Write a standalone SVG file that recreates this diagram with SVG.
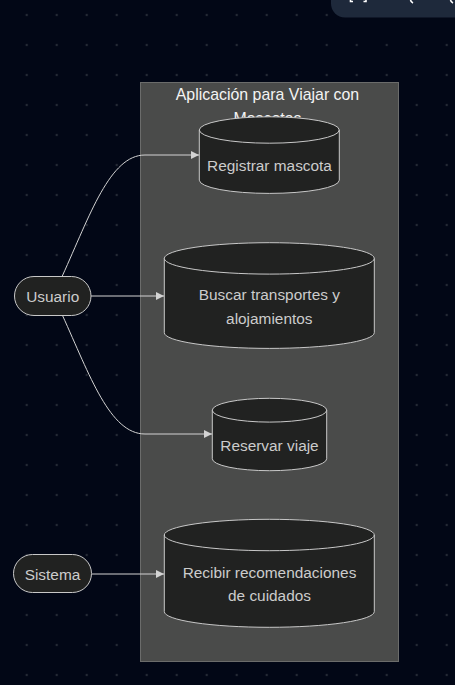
<svg xmlns="http://www.w3.org/2000/svg" width="455" height="685" viewBox="0 0 455 685">
  <defs>
    <pattern id="dots" x="11.7" y="0" width="30" height="30" patternUnits="userSpaceOnUse">
      <circle cx="15" cy="15" r="1.2" fill="#252a35"/>
    </pattern>
    <marker id="arrow" viewBox="0 0 10 10" refX="10" refY="5" markerUnits="userSpaceOnUse" markerWidth="8" markerHeight="8" orient="auto">
      <path d="M0,0 L10,5 L0,10 z" fill="#d3d3d3"/>
    </marker>
    <style>
      .lbl { font-family: "Liberation Sans", Arial, sans-serif; font-size: 15.4px; fill: #cccccc; text-anchor: middle; }
      .title { font-family: "Liberation Sans", Arial, sans-serif; font-size: 15.9px; fill: #f4f4f4; text-anchor: middle; }
      .cyl { fill: #212221; stroke: #c8c8c8; stroke-width: 1; }
      .actor { fill: #212221; stroke: #c8c8c8; stroke-width: 1; }
      .edge { fill: none; stroke: #d3d3d3; stroke-width: 1; marker-end: url(#arrow); }
    </style>
  </defs>

  <rect width="455" height="685" fill="#020716"/>
  <rect width="455" height="685" fill="url(#dots)"/>

  <!-- toolbar corner -->
  <g id="toolbar">
    <rect x="331" y="-20" width="150" height="37.5" rx="14" fill="#1e293b"/>
    <path d="M350.5,0 V1.5 H353 M366,0 V1.5 H363.5 M410.5,0 Q411,2 413,3 M450.5,0 Q451,2 453,3" fill="none" stroke="#ffffff" stroke-width="1.6"/>
  </g>

  <!-- subgraph -->
  <g id="subgraph-app">
    <rect x="140.5" y="82.5" width="258" height="579" fill="#4a4b4a" stroke="#6b6c6b" stroke-width="1"/>
    <text class="title" x="267.5" y="100">Aplicación para Viajar con</text>
    <text class="title" x="267.5" y="123.5">Mascotas</text>
  </g>

  <!-- connectors -->
  <g id="connectors">
    <path class="edge" d="M62.3,276 C90,215 110,155 145,155 L199,155"/>
    <path class="edge" d="M91,296 L164,296"/>
    <path class="edge" d="M62.3,315 C90,376 110,434 145,434 L212,434"/>
    <path class="edge" d="M92,574 L164,574"/>
  </g>

  <!-- use case nodes -->
  <g id="node-registrar">
    <path class="cyl" d="M199.3,130 a70,13.2 0 0 0 140,0 a70,13.2 0 0 0 -140,0 l0,50.2 a70,13.2 0 0 0 140,0 l0,-50.2"/>
    <text class="lbl" x="269.5" y="171">Registrar mascota</text>
  </g>

  <g id="node-buscar">
    <path class="cyl" d="M164.3,258.4 a105,15.7 0 0 0 210,0 a105,15.7 0 0 0 -210,0 l0,74.3 a105,15.7 0 0 0 210,0 l0,-74.3"/>
    <text class="lbl" x="269.3" y="300">Buscar transportes y</text>
    <text class="lbl" x="269.3" y="323.5">alojamientos</text>
  </g>

  <g id="node-reservar">
    <path class="cyl" d="M212.3,410.2 a57.2,11.9 0 0 0 114.4,0 a57.2,11.9 0 0 0 -114.4,0 l0,48.6 a57.2,11.9 0 0 0 114.4,0 l0,-48.6"/>
    <text class="lbl" x="269.5" y="451">Reservar viaje</text>
  </g>

  <g id="node-recibir">
    <path class="cyl" d="M164.3,535 a105,15.7 0 0 0 210,0 a105,15.7 0 0 0 -210,0 l0,76.6 a105,15.7 0 0 0 210,0 l0,-76.6"/>
    <text class="lbl" x="269.5" y="578.3">Recibir recomendaciones</text>
    <text class="lbl" x="269.5" y="601.1">de cuidados</text>
  </g>

  <!-- actors -->
  <g id="node-usuario">
    <rect class="actor" x="14.5" y="276.5" width="76.5" height="39" rx="19.5"/>
    <text class="lbl" x="52.7" y="301.5">Usuario</text>
  </g>

  <g id="node-sistema">
    <rect class="actor" x="13.5" y="554.5" width="78" height="38" rx="19"/>
    <text class="lbl" x="52.5" y="580">Sistema</text>
  </g>
</svg>
